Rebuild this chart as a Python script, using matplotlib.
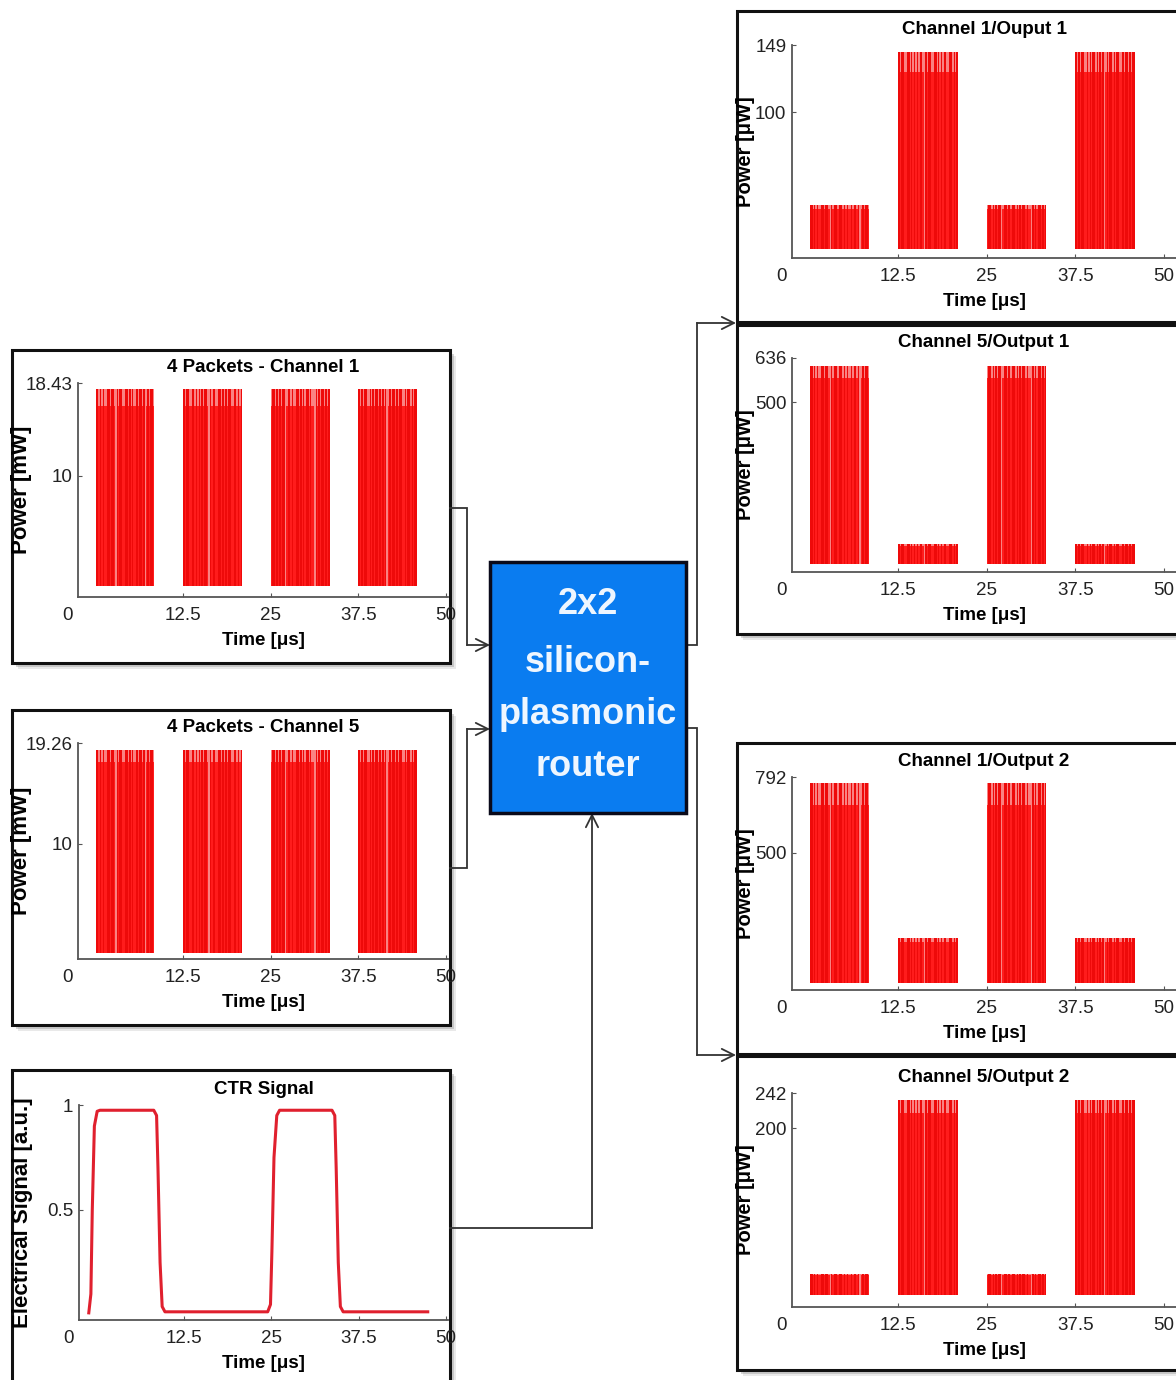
"""2x2 silicon-plasmonic router: input packets, control signal and routed outputs."""
import matplotlib.pyplot as plt
import numpy as np
from matplotlib.patches import Rectangle

W, H = 1176, 1380
plt.rcParams["font.family"] = ["Liberation Sans", "DejaVu Sans"]

# shared time axis, us
x_ticks = [12.5, 25, 37.5, 50]
x_ticklabels = ["12.5", "25", "37.5", "50"]

packet_start = [0.0, 12.5, 25.0, 37.5]
packet_len = 8.4

# bit pattern of each packet slot: 0 = space, 1 = mark, 2 = mark with overshoot
bit_codes = [
    "221212112212210212211221212112122120121221",
    "212211221212121221021221122121212211221212",
    "122121212201221211221212122121102121221212",
    "212122112121221212120121221212211212212122",
]

# input channels, mW
ch1_peak = [17.9, 17.9, 17.9, 17.9]
ch1_base = [16.3, 16.3, 16.3, 16.3]
ch5_peak = [18.6, 18.6, 18.6, 18.6]
ch5_base = [17.5, 17.5, 17.5, 17.5]

# router outputs, uW
c1o1_peak = [32, 144, 32, 144]
c1o1_base = [29, 129, 29, 129]
c5o1_peak = [612, 62, 612, 62]
c5o1_base = [575, 56, 575, 56]
c1o2_peak = [768, 173, 768, 173]
c1o2_base = [684, 158, 684, 158]
c5o2_peak = [26, 234, 26, 234]
c5o2_base = [24, 218, 24, 218]

# control signal, a.u.
ctr_t = [-1.1, -0.8, -0.6, -0.3, 0.1, 0.5, 8.2, 8.6, 8.8, 9.1, 9.4, 9.8,
         24.5, 24.9, 25.1, 25.4, 25.8, 26.2, 33.7, 34.1, 34.3, 34.6, 34.9,
         35.3, 47.4]
ctr_v = [0.01, 0.1, 0.5, 0.9, 0.97, 0.975, 0.975, 0.95, 0.7, 0.25, 0.04,
         0.015, 0.015, 0.05, 0.3, 0.75, 0.95, 0.975, 0.975, 0.95, 0.7, 0.25,
         0.04, 0.015, 0.015]

router_lines = ["2x2", "silicon-", "plasmonic", "router"]

RED = "#ff1c1c"
RED_DK = "#ee0a0a"
PINK = "#fa8282"
LINE = "#333333"

fig = plt.figure(figsize=(W / 100, H / 100), dpi=100)

# pixel-space canvas for frames, connectors and the router block
bg = fig.add_axes([0, 0, 1, 1], zorder=0)
bg.set_xlim(0, W)
bg.set_ylim(H, 0)
bg.axis("off")


def frame(l, t, r, b):
    for off, a in ((6, 0.18), (4, 0.35), (2, 0.4)):
        bg.add_patch(Rectangle((l + off, t + off), r - l, b - t,
                               facecolor="#8a8a8a", edgecolor="none", alpha=a))
    bg.add_patch(Rectangle((l, t), r - l, b - t, facecolor="white",
                           edgecolor="#111111", lw=2.2))


for box in [(12, 350, 450, 663), (12, 710, 450, 1025), (12, 1070, 450, 1400),
            (737, 11, 1200, 322), (737, 325, 1200, 634),
            (737, 743, 1200, 1054), (737, 1056, 1200, 1370)]:
    frame(*box)


def connector(pts):
    xs, ys = zip(*pts)
    bg.plot(xs[:-1], ys[:-1], color=LINE, lw=1.3, solid_joinstyle="miter")
    bg.annotate("", xy=pts[-1], xytext=pts[-2],
                arrowprops=dict(arrowstyle="->", color=LINE, lw=1.3,
                                mutation_scale=22, shrinkA=0, shrinkB=0))


connector([(450, 508), (467, 508), (467, 645), (490, 645)])
connector([(450, 868), (467, 868), (467, 729), (490, 729)])
connector([(450, 1228), (592, 1228), (592, 813)])
connector([(686, 645), (697, 645), (697, 323), (736, 323)])
connector([(686, 728), (697, 728), (697, 1055), (736, 1055)])

bg.add_patch(Rectangle((490, 562), 196, 251, facecolor="#0a7cf0",
                       edgecolor="#0a0a1a", lw=2.5, zorder=3))
for line, y in zip(router_lines, [605, 662, 714, 767]):
    bg.text(588, y, line, ha="center", va="center", fontsize=26,
            fontweight="bold", color="#eef6ff", zorder=4)


def panel(box, title, ylabel, ylim, yticks, yticklabels, xmax, ylab_x, ylab_size):
    l, t, r, b = box
    ax = fig.add_axes([l / W, 1 - b / H, (r - l) / W, (b - t) / H], zorder=2)
    ax.set_facecolor("none")
    ax.set_xlim(-2.5, xmax)
    ax.set_ylim(*ylim)
    ax.set_xticks(x_ticks)
    ax.set_xticklabels(x_ticklabels)
    ax.set_yticks(yticks)
    ax.set_yticklabels(yticklabels)
    ax.spines[["top", "right"]].set_visible(False)
    for s in ("left", "bottom"):
        ax.spines[s].set_color("#555555")
        ax.spines[s].set_linewidth(1.3)
    ax.tick_params(direction="in", length=3, width=0.8, color="#555555",
                   labelcolor="#222222", labelsize=13.5)
    ax.tick_params(axis="x", pad=7)
    ax.tick_params(axis="y", pad=4)
    ax.annotate("0", xy=(0, 0), xycoords="axes fraction", xytext=(-4, -7),
                textcoords="offset points", ha="right", va="top",
                fontsize=13.5, color="#222222")
    ax.set_title(title, fontsize=13.5, fontweight="bold", pad=8)
    ax.set_xlabel("Time [μs]", fontsize=13.5, fontweight="bold", labelpad=6)
    ax.set_ylabel(ylabel, fontsize=ylab_size, fontweight="bold")
    ax.yaxis.set_label_coords(ylab_x, 0.5)
    return ax


def draw_packets(ax, peaks, bases):
    for start, code, pk, bs in zip(packet_start, bit_codes, peaks, bases):
        n = len(code)
        edges = start + packet_len * np.arange(n + 1) / n
        band = [pk if c != "2" else 0 for c in code]
        over = [pk if c == "2" else 0 for c in code]
        main = [bs if c == "1" else 0 for c in code]
        # light band under every slot, overshooting marks, then the marks
        ax.fill_between(edges, 0, band + band[-1:], step="post",
                        color=PINK, lw=0)
        ax.fill_between(edges, 0, over + over[-1:], step="post",
                        color=RED_DK, lw=0)
        ax.fill_between(edges, 0, main + main[-1:], step="post",
                        color=RED, lw=0)


LEFT_XMAX = 50.3
RIGHT_XMAX = 51.7

ax = panel((78, 383, 448, 597), "4 Packets - Channel 1", "Power [mW]",
           (-1.0, 18.43), [10, 18.43], ["10", "18.43"], LEFT_XMAX, -0.123, 16)
draw_packets(ax, ch1_peak, ch1_base)

ax = panel((78, 743, 448, 959), "4 Packets - Channel 5", "Power [mW]",
           (-0.55, 19.26), [10, 19.26], ["10", "19.26"], LEFT_XMAX, -0.123, 16)
draw_packets(ax, ch5_peak, ch5_base)

ax = panel((79, 1105, 448, 1320), "CTR Signal", "Electrical Signal [a.u.]",
           (-0.024, 1.0), [0.5, 1], ["0.5", "1"], LEFT_XMAX, -0.125, 16)
ax.plot(ctr_t, ctr_v, color="#e0202e", lw=2.2)

ax = panel((792, 45, 1176, 258), "Channel 1/Ouput 1", "Power [μW]",
           (-6.6, 149), [100, 149], ["100", "149"], RIGHT_XMAX, -0.097, 14.5)
draw_packets(ax, c1o1_peak, c1o1_base)

ax = panel((792, 358, 1176, 572), "Channel 5/Output 1", "Power [μW]",
           (-25, 636), [500, 636], ["500", "636"], RIGHT_XMAX, -0.097, 14.5)
draw_packets(ax, c5o1_peak, c5o1_base)

ax = panel((792, 777, 1176, 990), "Channel 1/Output 2", "Power [μW]",
           (-27, 792), [500, 792], ["500", "792"], RIGHT_XMAX, -0.097, 14.5)
draw_packets(ax, c1o2_peak, c1o2_base)

ax = panel((792, 1093, 1176, 1307), "Channel 5/Output 2", "Power [μW]",
           (-14, 242), [200, 242], ["200", "242"], RIGHT_XMAX, -0.097, 14.5)
draw_packets(ax, c5o2_peak, c5o2_base)

fig.savefig("out.png", dpi=100)
